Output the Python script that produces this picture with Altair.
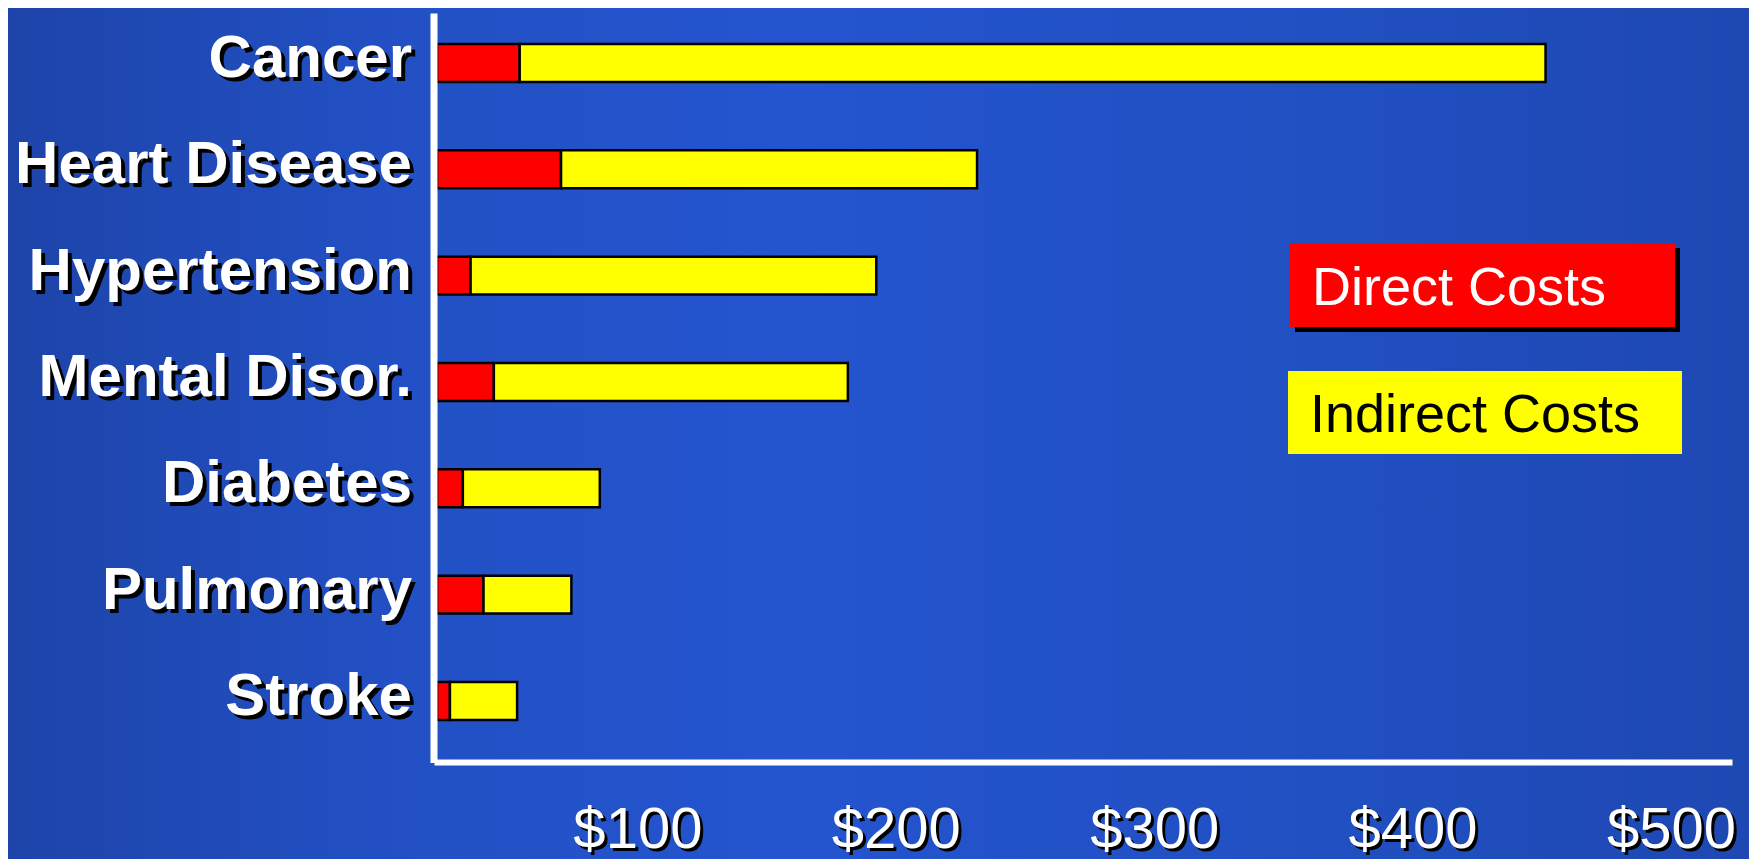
import altair as alt
import pandas as pd

# ---- data (billions of dollars) ----
categories = ["Cancer", "Heart Disease", "Hypertension", "Mental Disor.",
              "Diabetes", "Pulmonary", "Stroke"]
direct_costs = [32, 48, 13, 22, 10, 18, 5]
indirect_costs = [397, 161, 157, 137, 53, 34, 26]
series_names = ["Direct Costs", "Indirect Costs"]
series_colors = ["#ff0000", "#ffff00"]
tick_values = [100, 200, 300, 400, 500]
tick_labels = ["$100", "$200", "$300", "$400", "$500"]

rows = []
for c, d, i in zip(categories, direct_costs, indirect_costs):
    rows.append({"category": c, "series": series_names[0], "cost": d})
    rows.append({"category": c, "series": series_names[1], "cost": i})
bars_df = pd.DataFrame(rows)
cat_df = pd.DataFrame({"category": categories})
tick_df = pd.DataFrame({"value": tick_values, "label": tick_labels})

BG = "#2150c6"
W, H = 1292, 742.5
PAD_L, PAD_T, PAD_R, PAD_B = 429, 8.5, 20, 100

x_scale = alt.Scale(domain=[0, 500], nice=False, zero=True)
y_scale = alt.Scale(paddingInner=0.643, paddingOuter=0.313, align=0.413)

# background panel with a soft horizontal gradient (covers whole canvas)
bg_df = pd.DataFrame({"bg": [1]})
background = alt.Chart(bg_df).mark_rect(
    color=alt.Gradient(
        gradient="linear", x1=0, x2=1, y1=0, y2=0,
        stops=[alt.GradientStop(offset=0, color="#1d44a9"),
               alt.GradientStop(offset=0.22, color="#2250c4"),
               alt.GradientStop(offset=0.45, color="#2454cf"),
               alt.GradientStop(offset=0.75, color="#2150c2"),
               alt.GradientStop(offset=1, color="#1e48b2")]),
).encode(
    x=alt.value(-PAD_L), x2=alt.value(W + PAD_R),
    y=alt.value(-PAD_T), y2=alt.value(H + PAD_B),
)

bars = alt.Chart(bars_df).mark_bar(stroke="black", strokeWidth=2.5).encode(
    y=alt.Y("category:N", sort=categories, scale=y_scale,
            axis=alt.Axis(labels=False, ticks=False, title=None, domainColor="white",
                          domainWidth=7, offset=3.5, domainCap="square", zindex=1)),
    x=alt.X("cost:Q", stack="zero", scale=x_scale,
            axis=alt.Axis(labels=False, ticks=False, grid=False, title=None,
                          domainColor="white", domainWidth=6, offset=3,
                          domainCap="square", zindex=1)),
    color=alt.Color("series:N", scale=alt.Scale(domain=series_names, range=series_colors),
                    legend=None),
    order=alt.Order("series:N"),
)

ylab_font = dict(font="Liberation Sans", fontWeight="bold", fontSize=60,
                 align="right", baseline="alphabetic")
ylab_shadow = alt.Chart(cat_df).mark_text(color="black", dx=4, dy=18, **ylab_font).encode(
    y=alt.Y("category:N", sort=categories, scale=y_scale),
    x=alt.value(-25),
    text="category:N",
)
ylab = alt.Chart(cat_df).mark_text(color="white", dy=14, **ylab_font).encode(
    y=alt.Y("category:N", sort=categories, scale=y_scale),
    x=alt.value(-25),
    text="category:N",
)

xlab_font = dict(font="Liberation Sans", fontSize=58, align="right", baseline="alphabetic")
xlab_shadow = alt.Chart(tick_df).mark_text(color="black", dx=10, dy=3, **xlab_font).encode(
    x=alt.X("value:Q", scale=x_scale),
    y=alt.value(H + 89),
    text="label:N",
)
xlab = alt.Chart(tick_df).mark_text(color="white", dx=7, **xlab_font).encode(
    x=alt.X("value:Q", scale=x_scale),
    y=alt.value(H + 89),
    text="label:N",
)

leg1 = pd.DataFrame({"label": [series_names[0]]})
leg2 = pd.DataFrame({"label": [series_names[1]]})

leg1_shadow = alt.Chart(leg1).mark_rect(color="black").encode(
    x=alt.value(858), x2=alt.value(1243), y=alt.value(231.5), y2=alt.value(315.5))
leg1_box = alt.Chart(leg1).mark_rect(color=series_colors[0]).encode(
    x=alt.value(853), x2=alt.value(1238), y=alt.value(226.5), y2=alt.value(310.5))
leg1_text = alt.Chart(leg1).mark_text(
    font="Liberation Sans", fontSize=54, color="white", align="left", baseline="alphabetic"
).encode(x=alt.value(875), y=alt.value(288.5), text="label:N")

leg2_box = alt.Chart(leg2).mark_rect(color=series_colors[1]).encode(
    x=alt.value(851), x2=alt.value(1245), y=alt.value(354.5), y2=alt.value(437.5))
leg2_text = alt.Chart(leg2).mark_text(
    font="Liberation Sans", fontSize=54, color="black", align="left", baseline="alphabetic"
).encode(x=alt.value(873), y=alt.value(415.5), text="label:N")

chart = alt.layer(
    background, bars, ylab_shadow, ylab, xlab_shadow, xlab,
    leg1_shadow, leg1_box, leg1_text, leg2_box, leg2_text,
).properties(
    width=W, height=H,
    background=BG,
    autosize=alt.AutoSizeParams(type="none"),
    padding={"left": PAD_L, "top": PAD_T, "right": PAD_R, "bottom": PAD_B},
).configure_view(strokeWidth=0)

chart.save("out.html", embed_options={"renderer": "svg", "actions": False})
